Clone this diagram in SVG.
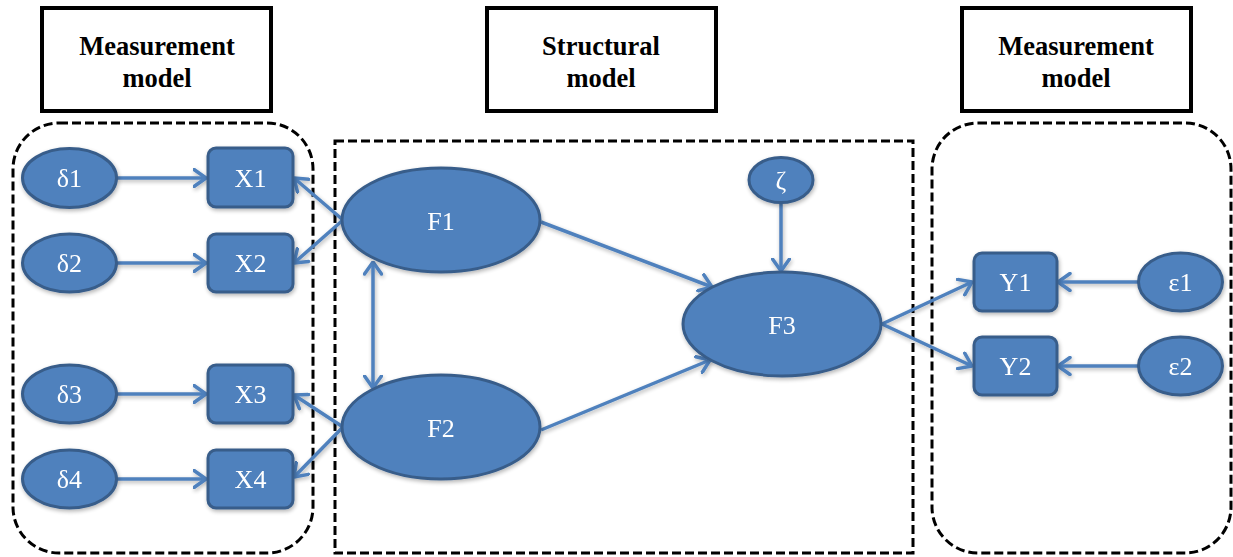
<svg xmlns="http://www.w3.org/2000/svg" width="1233" height="557" viewBox="0 0 1233 557">
  <style>
    .title { fill: #fff; stroke: #000; stroke-width: 4; }
    .title-text { font-family: "Liberation Serif", "Times New Roman", serif; font-size: 26.5px; font-weight: bold; fill: #000; text-anchor: middle; }
    .group { fill: none; stroke: #000; stroke-width: 3; stroke-dasharray: 9 4; }
    .node { fill: #4F81BD; stroke: #385D8A; stroke-width: 3; }
    .label { font-family: "Liberation Serif", "Times New Roman", serif; font-size: 26px; fill: #fff; text-anchor: middle; }
    .edge { fill: none; stroke: #4F81BD; stroke-width: 3.5; marker-end: url(#arrow); }
    .edge.both { marker-start: url(#arrow); }
  </style>
  <defs>
    <marker id="arrow" viewBox="0 0 15 20" refX="13.5" refY="10" markerWidth="15" markerHeight="20" markerUnits="userSpaceOnUse" orient="auto-start-reverse">
      <path d="M1.5,1.5 L13.5,10 L1.5,18.5" fill="none" stroke="#4F81BD" stroke-width="3.5" stroke-linecap="round" stroke-linejoin="round"/>
    </marker>
    <filter id="shadow" x="-20%" y="-20%" width="140%" height="150%">
      <feGaussianBlur in="SourceAlpha" stdDeviation="2"/>
      <feOffset dx="1" dy="2" result="b"/>
      <feComponentTransfer><feFuncA type="linear" slope="0.3"/></feComponentTransfer>
      <feMerge><feMergeNode/><feMergeNode in="SourceGraphic"/></feMerge>
    </filter>
  </defs>

  <rect width="1233" height="557" fill="#fff"/>

  <!-- section headers -->
  <g id="header-left">
    <rect class="title" x="42" y="8" width="229" height="103"/>
    <text class="title-text" x="157" y="55">Measurement</text>
    <text class="title-text" x="157" y="87">model</text>
  </g>
  <g id="header-middle">
    <rect class="title" x="487" y="8" width="229" height="103"/>
    <text class="title-text" x="601" y="55">Structural</text>
    <text class="title-text" x="601" y="87">model</text>
  </g>
  <g id="header-right">
    <rect class="title" x="962" y="8" width="229" height="103"/>
    <text class="title-text" x="1076" y="55">Measurement</text>
    <text class="title-text" x="1076" y="87">model</text>
  </g>

  <!-- dashed section frames -->
  <g id="frames">
    <rect class="group" x="13" y="123" width="300" height="430" rx="46" ry="46"/>
    <rect class="group" x="335" y="141" width="578" height="412"/>
    <rect class="group" x="932" y="123" width="299" height="430" rx="46" ry="46"/>
  </g>

  <!-- connectors -->
  <g id="connectors" filter="url(#shadow)">
    <line class="edge" x1="117" y1="178" x2="206" y2="178"/>
    <line class="edge" x1="117" y1="263" x2="206" y2="263"/>
    <line class="edge" x1="117" y1="394" x2="206" y2="394"/>
    <line class="edge" x1="117" y1="479" x2="206" y2="479"/>

    <line class="edge" x1="343" y1="220" x2="294" y2="178"/>
    <line class="edge" x1="343" y1="220" x2="294" y2="263"/>
    <line class="edge" x1="343" y1="427" x2="294" y2="395"/>
    <line class="edge" x1="343" y1="427" x2="294" y2="477"/>

    <line class="edge both" x1="373" y1="262" x2="373" y2="388"/>

    <line class="edge" x1="541" y1="222" x2="712" y2="287"/>
    <line class="edge" x1="541" y1="430" x2="710" y2="360"/>
    <line class="edge" x1="781" y1="203" x2="781" y2="271"/>

    <line class="edge" x1="882" y1="324" x2="972" y2="282"/>
    <line class="edge" x1="882" y1="324" x2="972" y2="366"/>

    <line class="edge" x1="1138" y1="282" x2="1058" y2="282"/>
    <line class="edge" x1="1138" y1="366" x2="1058" y2="366"/>
  </g>

  <!-- error terms of X indicators -->
  <g id="d1" filter="url(#shadow)">
    <ellipse class="node" cx="69.5" cy="178" rx="47" ry="29.5"/>
    <text class="label" x="69.5" y="187">δ1</text>
  </g>
  <g id="d2" filter="url(#shadow)">
    <ellipse class="node" cx="69.5" cy="263" rx="47" ry="29"/>
    <text class="label" x="69.5" y="272">δ2</text>
  </g>
  <g id="d3" filter="url(#shadow)">
    <ellipse class="node" cx="69.5" cy="394" rx="47" ry="29"/>
    <text class="label" x="69.5" y="403">δ3</text>
  </g>
  <g id="d4" filter="url(#shadow)">
    <ellipse class="node" cx="69.5" cy="479" rx="47" ry="29"/>
    <text class="label" x="69.5" y="488">δ4</text>
  </g>

  <!-- X indicators -->
  <g id="x1" filter="url(#shadow)">
    <rect class="node" x="208" y="148" width="85" height="59" rx="8"/>
    <text class="label" x="250.5" y="187">X1</text>
  </g>
  <g id="x2" filter="url(#shadow)">
    <rect class="node" x="208" y="234" width="85" height="58" rx="8"/>
    <text class="label" x="250.5" y="272">X2</text>
  </g>
  <g id="x3" filter="url(#shadow)">
    <rect class="node" x="208" y="365" width="85" height="58" rx="8"/>
    <text class="label" x="250.5" y="403">X3</text>
  </g>
  <g id="x4" filter="url(#shadow)">
    <rect class="node" x="208" y="450" width="85" height="58" rx="8"/>
    <text class="label" x="250.5" y="488">X4</text>
  </g>

  <!-- latent factors -->
  <g id="f1" filter="url(#shadow)">
    <ellipse class="node" cx="441" cy="220" rx="99" ry="52"/>
    <text class="label" x="441" y="230">F1</text>
  </g>
  <g id="f2" filter="url(#shadow)">
    <ellipse class="node" cx="441" cy="427" rx="99" ry="52"/>
    <text class="label" x="441" y="437">F2</text>
  </g>
  <g id="f3" filter="url(#shadow)">
    <ellipse class="node" cx="782" cy="324" rx="99" ry="52"/>
    <text class="label" x="782" y="334">F3</text>
  </g>
  <g id="zeta" filter="url(#shadow)">
    <ellipse class="node" cx="781" cy="180" rx="32" ry="22.5"/>
    <text class="label" x="781" y="189">ζ</text>
  </g>

  <!-- Y indicators -->
  <g id="y1" filter="url(#shadow)">
    <rect class="node" x="974" y="253" width="83" height="58" rx="8"/>
    <text class="label" x="1015.5" y="291">Y1</text>
  </g>
  <g id="y2" filter="url(#shadow)">
    <rect class="node" x="974" y="337" width="83" height="58" rx="8"/>
    <text class="label" x="1015.5" y="375">Y2</text>
  </g>

  <!-- error terms of Y indicators -->
  <g id="e1" filter="url(#shadow)">
    <ellipse class="node" cx="1180.5" cy="282" rx="42" ry="29"/>
    <text class="label" x="1180.5" y="291">ε1</text>
  </g>
  <g id="e2" filter="url(#shadow)">
    <ellipse class="node" cx="1180.5" cy="366" rx="42" ry="29"/>
    <text class="label" x="1180.5" y="375">ε2</text>
  </g>
</svg>
